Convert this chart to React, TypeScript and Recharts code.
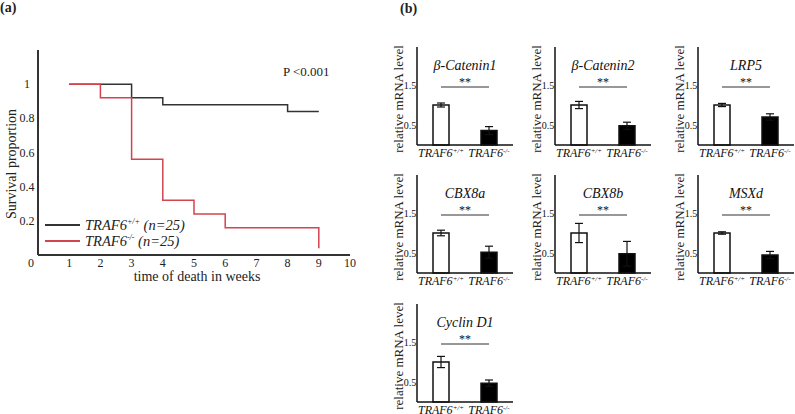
import React from "react";
import { LineChart, Line, XAxis, YAxis, BarChart, Bar, Cell, ErrorBar, ReferenceLine } from "recharts";

const SERIF = '"Liberation Serif", "Times New Roman", serif';

// (a) survival curves
const weeks = [1, 2, 3, 4, 5, 6, 8, 9];
const survivalWT = [1, 1, 0.92, 0.88, 0.88, 0.88, 0.84, 0.84];
const survivalKO = [1, 0.92, 0.56, 0.32, 0.24, 0.16, 0.16, 0.04];
const weekTicks = [0, 1, 2, 3, 4, 5, 6, 7, 8, 9, 10];
const survTicks = [0.2, 0.4, 0.6, 0.8, 1];
const seriesNames = ["TRAF6", "TRAF6"];
const seriesSup = ["+/+", "-/-"];
const seriesN = ["(n=25)", "(n=25)"];

// (b) qPCR
const genes = ["β-Catenin1", "β-Catenin2", "LRP5", "CBX8a", "CBX8b", "MSXd", "Cyclin D1"];
const wtMean = [1, 1, 1, 1, 1, 1, 1];
const wtErr = [0.05, 0.09, 0.04, 0.07, 0.24, 0.03, 0.14];
const koMean = [0.36, 0.48, 0.7, 0.52, 0.48, 0.45, 0.47];
const koErr = [0.1, 0.09, 0.08, 0.15, 0.31, 0.09, 0.08];
const mrnaTicks = [0, 0.5, 1, 1.5];
const groups = ["wt", "ko"];
const sigLevel = 1.45;

const RED = "#d2444e";
const DARK = "#333333";

const survData = weeks.map((w, i) => ({ week: w, wt: survivalWT[i], ko: survivalKO[i] }));

const txt: React.CSSProperties = { position: "absolute", fontFamily: SERIF, color: "#222", whiteSpace: "nowrap" };

function RotText({ cx, cy, size, children }: { cx: number; cy: number; size: number; children: React.ReactNode }) {
  return (
    <div
      style={{
        ...txt,
        left: cx,
        top: cy,
        fontSize: size,
        lineHeight: 1,
        transform: "translate(-50%, -50%) rotate(-90deg)",
      }}
    >
      {children}
    </div>
  );
}

const SurvXTick = (props: any) => {
  const { x, y, payload } = props;
  const shift = payload.value === 0 ? -7 : 0;
  return (
    <text x={x + shift} y={y} dy={12} textAnchor="middle" fontSize={12} fontFamily={SERIF} fill="#222">
      {payload.value}
    </text>
  );
};

const SurvYTick = (props: any) => {
  const { x, y, payload } = props;
  return (
    <text x={x - 11} y={y} dy={4} textAnchor="middle" fontSize={12} fontFamily={SERIF} fill="#222">
      {payload.value}
    </text>
  );
};

function SurvivalPanel() {
  return (
    <div style={{ position: "absolute", left: 0, top: 0, width: 372, height: 300 }}>
      <LineChart width={372} height={300} data={survData} margin={{ top: 50, right: 22, bottom: 15, left: 0 }}>
        <XAxis
          type="number"
          dataKey="week"
          domain={[0, 10]}
          ticks={weekTicks}
          tick={<SurvXTick />}
          tickLine={false}
          tickSize={0}
          tickMargin={0}
          height={30}
          axisLine={{ stroke: DARK, strokeWidth: 2 }}
        />
        <YAxis
          type="number"
          domain={[0, 1.2]}
          ticks={survTicks}
          tick={<SurvYTick />}
          tickLine={false}
          tickSize={0}
          tickMargin={0}
          width={38}
          axisLine={{ stroke: DARK, strokeWidth: 2 }}
        />
        <Line type="stepAfter" dataKey="wt" stroke={DARK} strokeWidth={1.5} dot={false} isAnimationActive={false} />
        <Line type="stepAfter" dataKey="ko" stroke={RED} strokeWidth={1.5} dot={false} isAnimationActive={false} />
      </LineChart>
      <div style={{ ...txt, left: 283, top: 64, fontSize: 13 }}>P &lt;0.001</div>
      <div style={{ ...txt, left: 197, top: 277, fontSize: 14, transform: "translate(-50%, -50%)" }}>
        time of death in weeks
      </div>
      <RotText cx={12} cy={164} size={14}>
        Survival proportion
      </RotText>
      {/* legend */}
      <div style={{ position: "absolute", left: 45, top: 217, fontFamily: SERIF, fontSize: 14.5, fontStyle: "italic", color: "#222" }}>
        {[DARK, RED].map((c, i) => (
          <div key={i} style={{ display: "flex", alignItems: "center", height: 16 }}>
            <svg width={40} height={4}>
              <line x1={0} y1={2} x2={35} y2={2} stroke={c} strokeWidth={2} />
            </svg>
            <span style={{ whiteSpace: "nowrap", lineHeight: "16px" }}>
              {seriesNames[i]}
              <sup style={{ fontSize: 8, lineHeight: 0 }}>{seriesSup[i]}</sup> {seriesN[i]}
            </span>
          </div>
        ))}
      </div>
    </div>
  );
}

const GroupTick = (props: any) => {
  const { x, y, payload } = props;
  const i = groups.indexOf(payload.value);
  return (
    <text x={x} y={y} dy={12} textAnchor="middle" fontSize={12} fontStyle="italic" fontFamily={SERIF} fill="#111">
      TRAF6
      <tspan dy={-4} fontSize={7}>{seriesSup[i]}</tspan>
    </text>
  );
};

const MrnaYTick = (props: any) => {
  const { x, y, payload } = props;
  return (
    <text x={x - 7} y={y} dy={3.5} textAnchor="middle" fontSize={10} fontFamily={SERIF} fill="#111">
      {payload.value}
    </text>
  );
};

const PLOT_W = 96;
const PLOT_H = 98;
const AX_W = 30;
const TOP = 4;
const Y_MAX = 2.45;

function GenePanel({ g, axisX, bottomY }: { g: number; axisX: number; bottomY: number }) {
  const data = [
    { group: groups[0], v: wtMean[g], e: wtErr[g] },
    { group: groups[1], v: koMean[g], e: koErr[g] },
  ];
  const W = AX_W + PLOT_W + 1;
  const H = TOP + PLOT_H + 20;
  const sigY = TOP + PLOT_H * (1 - sigLevel / Y_MAX);
  return (
    <div style={{ position: "absolute", left: axisX - AX_W, top: bottomY - PLOT_H - TOP, width: W, height: H }}>
      <BarChart width={W} height={H} data={data} margin={{ top: TOP, right: 1, bottom: 0, left: 0 }}>
        <XAxis
          dataKey="group"
          tick={<GroupTick />}
          tickLine={false}
          tickSize={0}
          tickMargin={0}
          height={20}
          axisLine={{ stroke: "#111", strokeWidth: 1.5 }}
        />
        <YAxis
          type="number"
          domain={[0, Y_MAX]}
          ticks={mrnaTicks}
          tick={<MrnaYTick />}
          tickLine={false}
          tickSize={0}
          tickMargin={0}
          width={AX_W}
          axisLine={{ stroke: "#111", strokeWidth: 1.5 }}
        />
        <Bar dataKey="v" barSize={16} stroke="#111" strokeWidth={1.5} isAnimationActive={false}>
          {data.map((d, i) => (
            <Cell key={i} fill={i === 0 ? "#ffffff" : "#000000"} />
          ))}
          <ErrorBar dataKey="e" width={4} stroke="#111" strokeWidth={1.2} />
        </Bar>
        <ReferenceLine
          segment={[
            { x: groups[0], y: sigLevel },
            { x: groups[1], y: sigLevel },
          ]}
          stroke="#333"
          strokeWidth={1.2}
        />
      </BarChart>
      <RotText cx={AX_W - 19} cy={TOP + PLOT_H / 2 + 3} size={13}>
        relative mRNA level
      </RotText>
      <div
        style={{
          ...txt,
          left: AX_W,
          width: PLOT_W,
          top: TOP + 11,
          textAlign: "center",
          fontStyle: "italic",
          fontSize: 14,
          color: "#111",
          lineHeight: "16px",
        }}
      >
        {genes[g]}
      </div>
      <div
        style={{
          ...txt,
          left: AX_W,
          width: PLOT_W,
          top: sigY - 11,
          textAlign: "center",
          fontSize: 12,
          color: "#111",
          lineHeight: "12px",
        }}
      >
        **
      </div>
    </div>
  );
}

const colX = [417, 555, 698];
const rowBottom = [144.5, 273, 401.5];

export default function App() {
  return (
    <div
      style={{
        position: "absolute",
        left: 0,
        top: 0,
        width: 795,
        height: 414,
        overflow: "hidden",
        background: "#fff",
        fontFamily: SERIF,
      }}
    >
      <SurvivalPanel />
      <div style={{ ...txt, left: 0, top: 0, fontWeight: "bold", fontSize: 14 }}>(a)</div>
      <div style={{ ...txt, left: 400, top: 1, fontWeight: "bold", fontSize: 14 }}>(b)</div>
      {genes.map((_, g) => (
        <GenePanel key={g} g={g} axisX={colX[g % 3]} bottomY={rowBottom[Math.floor(g / 3)]} />
      ))}
    </div>
  );
}
